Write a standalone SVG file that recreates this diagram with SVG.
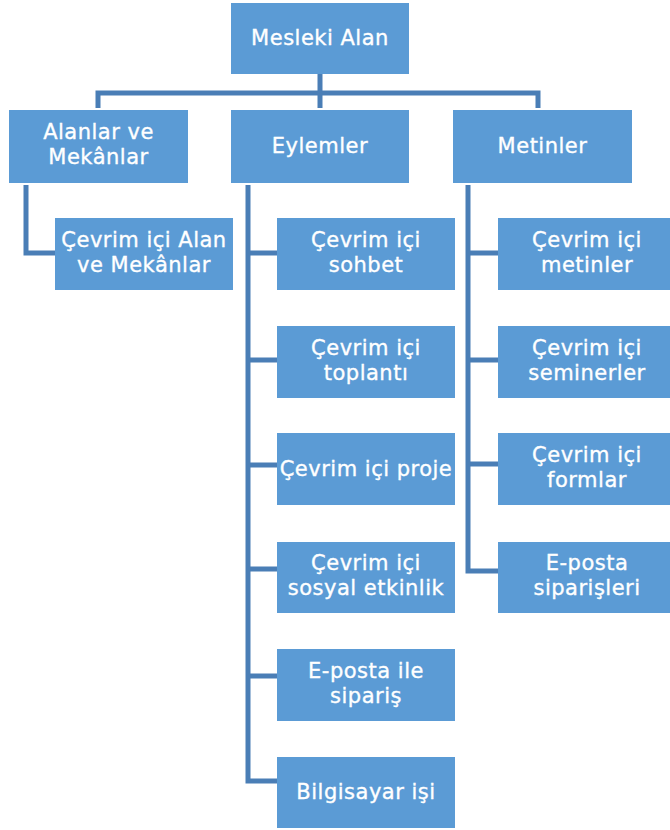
<svg xmlns="http://www.w3.org/2000/svg" width="670" height="830" viewBox="0 0 670 830">
<style>
.box{fill:#5B9BD5;}
.t{fill:#FFFFFF;stroke:#FFFFFF;stroke-width:0.35;font-family:"DejaVu Sans","Open Sans",sans-serif;font-size:21px;letter-spacing:0.5px;text-anchor:middle;}
.c{fill:none;stroke:#4A7EB6;stroke-width:5;stroke-linejoin:miter;stroke-linecap:butt;}
</style>
<rect width="670" height="830" fill="#FFFFFF"/>
<g id="connectors">
<path class="c" d="M320,74 V93 M98,108 V93 H538 V108 M320,93 V108"/>
<path class="c" d="M26,185 V253 H55"/>
<path class="c" d="M248,185 V781 H277 M248,253 H277 M248,360 H277 M248,465 H277 M248,569 H277 M248,676 H277"/>
<path class="c" d="M468,185 V571 H498 M468,253 H498 M468,360 H498 M468,464 H498"/>
</g>
<g id="root"><rect class="box" x="231" y="3" width="178" height="71"/><text class="t" x="320" y="45">Mesleki Alan</text></g>
<g id="alanlar"><rect class="box" x="9" y="110" width="179" height="73"/><text class="t" x="98.5" y="139">Alanlar ve</text><text class="t" x="98.5" y="164">Mekânlar</text></g>
<g id="eylemler"><rect class="box" x="231" y="110" width="178" height="73"/><text class="t" x="320" y="153">Eylemler</text></g>
<g id="metinler"><rect class="box" x="453" y="110" width="179" height="73"/><text class="t" x="542.5" y="153">Metinler</text></g>
<g id="cevrimici-alan"><rect class="box" x="55" y="218" width="178" height="72"/><text class="t" x="144" y="247">Çevrim içi Alan</text><text class="t" x="144" y="272">ve Mekânlar</text></g>
<g id="sohbet"><rect class="box" x="277" y="218" width="178" height="72"/><text class="t" x="366" y="247">Çevrim içi</text><text class="t" x="366" y="272">sohbet</text></g>
<g id="toplanti"><rect class="box" x="277" y="326" width="178" height="72"/><text class="t" x="366" y="355">Çevrim içi</text><text class="t" x="366" y="380">toplantı</text></g>
<g id="proje"><rect class="box" x="277" y="433" width="178" height="72"/><text class="t" x="366" y="476">Çevrim içi proje</text></g>
<g id="sosyal"><rect class="box" x="277" y="542" width="178" height="71"/><text class="t" x="366" y="570">Çevrim içi</text><text class="t" x="366" y="595">sosyal etkinlik</text></g>
<g id="eposta-siparis"><rect class="box" x="277" y="649" width="178" height="72"/><text class="t" x="366" y="678">E-posta ile</text><text class="t" x="366" y="703">sipariş</text></g>
<g id="bilgisayar"><rect class="box" x="277" y="757" width="178" height="71"/><text class="t" x="366" y="799">Bilgisayar işi</text></g>
<g id="metinler-c"><rect class="box" x="498" y="218" width="178" height="72"/><text class="t" x="587" y="247">Çevrim içi</text><text class="t" x="587" y="272">metinler</text></g>
<g id="seminerler"><rect class="box" x="498" y="326" width="178" height="72"/><text class="t" x="587" y="355">Çevrim içi</text><text class="t" x="587" y="380">seminerler</text></g>
<g id="formlar"><rect class="box" x="498" y="433" width="178" height="72"/><text class="t" x="587" y="462">Çevrim içi</text><text class="t" x="587" y="487">formlar</text></g>
<g id="eposta-siparisleri"><rect class="box" x="498" y="542" width="178" height="71"/><text class="t" x="587" y="570">E-posta</text><text class="t" x="587" y="595">siparişleri</text></g>
</svg>
